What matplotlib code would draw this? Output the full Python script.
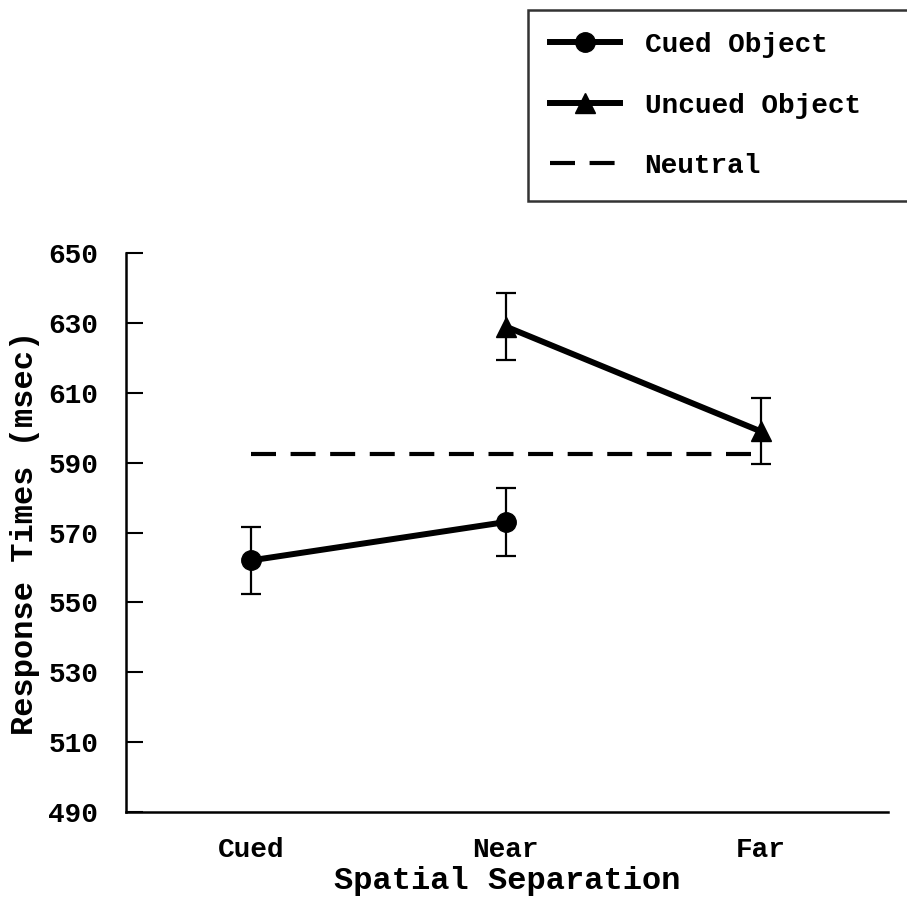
import matplotlib
matplotlib.use("Agg")
import matplotlib.pyplot as plt
from matplotlib.lines import Line2D

plt.rcParams['font.family'] = ['Liberation Mono', 'DejaVu Sans Mono']
plt.rcParams['font.weight'] = 'bold'

# data
conditions = ["Cued", "Near", "Far"]
cued_x = [0, 1]
cued_rt = [562, 573]
cued_err = [9.7, 9.7]
uncued_x = [1, 2]
uncued_rt = [629, 599]
uncued_err = [9.5, 9.5]
neutral_x = [0, 2]
neutral_rt = [592.5, 592.5]
yticks = [490, 510, 530, 550, 570, 590, 610, 630, 650]

fig = plt.figure(figsize=(9.07, 8.98), dpi=100)
ax = fig.add_axes([0.139, 0.096, 0.84, 0.622])

ax.plot(neutral_x, neutral_rt, color='black', lw=3, dashes=(6, 3.5), zorder=2)
ax.errorbar(cued_x, cued_rt, yerr=cued_err, color='black', lw=4.3, marker='o', ms=14,
            ecolor='black', elinewidth=1.6, capsize=7, capthick=1.6, zorder=3)
ax.errorbar(uncued_x, uncued_rt, yerr=uncued_err, color='black', lw=4.3, marker='^', ms=14,
            ecolor='black', elinewidth=1.6, capsize=7, capthick=1.6, zorder=3)

ax.set_xlim(-0.49, 2.5)
ax.set_ylim(490, 650)
ax.set_xticks(range(len(conditions)))
ax.set_xticklabels(conditions)
ax.set_yticks(yticks)
ax.tick_params(axis='x', length=0, labelsize=20, pad=18)
ax.tick_params(axis='y', direction='in', length=12, width=1.5, labelsize=20, pad=20)
ax.spines['top'].set_visible(False)
ax.spines['right'].set_visible(False)
ax.spines['left'].set_linewidth(1.8)
ax.spines['bottom'].set_linewidth(1.8)
ax.set_xlabel("Spatial Separation", fontsize=23, fontweight='bold', labelpad=2)
ax.set_ylabel("Response Times (msec)", fontsize=23, fontweight='bold', labelpad=6)

handles = [
    Line2D([], [], color='black', lw=4.3, marker='o', ms=14),
    Line2D([], [], color='black', lw=4.3, marker='^', ms=14),
    Line2D([], [], color='black', lw=3, dashes=(6, 3.5)),
]
labels = ["Cued Object", "Uncued Object", "Neutral"]
leg = fig.legend(handles, labels, loc='upper left', mode='expand',
                 bbox_to_anchor=(0.582, 0.0, 0.45, 0.989), bbox_transform=fig.transFigure,
                 fontsize=20, frameon=True, fancybox=False, handlelength=2.5, handletextpad=0.9,
                 labelspacing=1.24, borderpad=0.8, borderaxespad=0)
leg.get_frame().set_edgecolor('black')
leg.get_frame().set_linewidth(1.8)

fig.savefig("out.png", dpi=100)
